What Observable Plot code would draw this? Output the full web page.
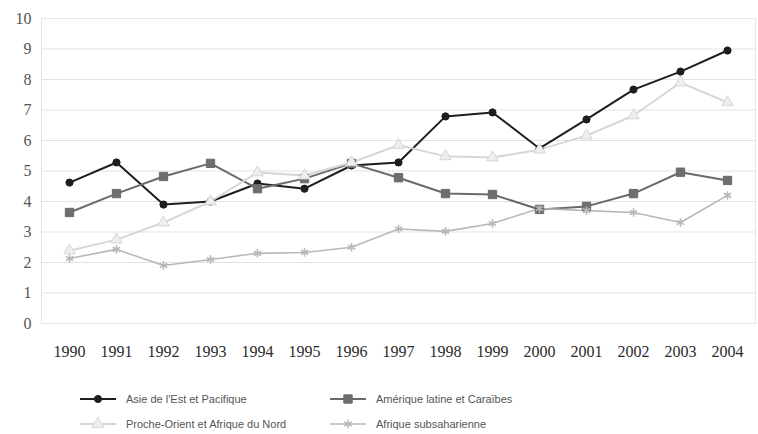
<!DOCTYPE html>
<html>
<head>
<meta charset="utf-8">
<script src="https://cdn.jsdelivr.net/npm/d3@7"></script>
<script src="https://cdn.jsdelivr.net/npm/@observablehq/plot@0.6"></script>
<style>
  html, body { margin: 0; padding: 0; background: #fff; }
  #chart { width: 758px; }
  .legend { position: relative; height: 59px; font-family: "Liberation Sans", Arial, sans-serif; font-size: 11px; color: #555; }
  .item { position: absolute; display: flex; align-items: center; }
  .item svg { margin-right: 10px; }
</style>
</head>
<body>
<div id="chart"></div>
<div class="legend" id="legend"></div>
<script>
// Years on the category axis
const years = ["1990","1991","1992","1993","1994","1995","1996","1997","1998","1999","2000","2001","2002","2003","2004"];

// Series values per region
const asieEst = [4.62, 5.28, 3.9, 4.0, 4.59, 4.42, 5.18, 5.28, 6.79, 6.92, 5.74, 6.69, 7.67, 8.26, 8.95];
const ameriqueLatine = [3.64, 4.26, 4.82, 5.25, 4.42, 4.75, 5.25, 4.78, 4.26, 4.23, 3.74, 3.84, 4.26, 4.96, 4.69];
const procheOrient = [2.39, 2.75, 3.31, 4.0, 4.95, 4.85, 5.28, 5.85, 5.48, 5.44, 5.7, 6.16, 6.82, 7.9, 7.25];
const afriqueSub = [2.13, 2.43, 1.9, 2.1, 2.3, 2.33, 2.5, 3.1, 3.02, 3.28, 3.77, 3.7, 3.64, 3.31, 4.2];

const yTicks = [0,1,2,3,4,5,6,7,8,9,10];

const series = [
  {name: "Asie de l'Est et Pacifique", values: asieEst, stroke: "#1e1e1e", fill: "#1e1e1e", symbol: "circle", r: 3.6, width: 2},
  {name: "Amérique latine et Caraïbes", values: ameriqueLatine, stroke: "#6a6a6a", fill: "#6e6e6e", symbol: "square", r: 4.7, width: 2},
  {name: "Proche-Orient et Afrique du Nord", values: procheOrient, stroke: "#d6d6d6", fill: "#eeeeee", symbol: "triangle", r: 4.3, width: 2},
  {name: "Afrique subsaharienne", values: afriqueSub, stroke: "#b8b8b8", fill: "none", symbol: "asterisk", r: 4, width: 1.6}
];

const rows = series.map(s => years.map((y, i) => ({year: y, value: s.values[i]})));

const marks = [
  Plot.gridY(yTicks, {stroke: "#e2e2e2", strokeOpacity: 1, strokeWidth: 1}),
  Plot.frame({stroke: "#e6e6e6"}),
  Plot.axisY(yTicks, {tickSize: 0, tickPadding: 10, fontSize: 16, fill: "#555", fontFamily: "Liberation Serif, Times New Roman, serif"}),
  Plot.axisX({tickSize: 0, tickPadding: 22, fontSize: 16, fill: "#2a2a2a", fontFamily: "Liberation Serif, Times New Roman, serif"})
];
series.forEach((s, k) => {
  marks.push(Plot.line(rows[k], {x: "year", y: "value", stroke: s.stroke, strokeWidth: s.width}));
});
series.forEach((s, k) => {
  marks.push(Plot.dot(rows[k], {
    x: "year", y: "value", symbol: () => s.symbol, r: s.r,
    fill: s.fill === "none" ? undefined : s.fill,
    stroke: s.stroke, strokeWidth: s.symbol === "asterisk" ? 1.6 : 1
  }));
});

const chart = Plot.plot({
  width: 758,
  height: 375,
  marginTop: 18,
  marginBottom: 52,
  marginLeft: 41,
  marginRight: 3,
  x: {type: "point", domain: years, padding: 0.5, label: null},
  y: {domain: [0, 10], label: null},
  symbol: {type: "identity"},
  style: {background: "#fff"},
  marks
});
document.getElementById("chart").appendChild(chart);

// Legend below the plot
const legendPos = [
  {left: 80, top: 24}, {left: 330, top: 24},
  {left: 80, top: 49}, {left: 330, top: 49}
];
const legend = document.getElementById("legend");
series.forEach((s, k) => {
  const item = document.createElement("div");
  item.className = "item";
  item.style.left = legendPos[k].left + "px";
  item.style.top = (legendPos[k].top - 7) + "px";
  const sw = d3.create("svg").attr("width", 36).attr("height", 14);
  sw.append("line").attr("x1", 0).attr("x2", 36).attr("y1", 7).attr("y2", 7)
    .attr("stroke", s.stroke).attr("stroke-width", s.width);
  const sym = {circle: d3.symbolCircle, square: d3.symbolSquare, triangle: d3.symbolTriangle, asterisk: d3.symbolAsterisk}[s.symbol];
  sw.append("path").attr("d", d3.symbol(sym, Math.PI * s.r * s.r)())
    .attr("transform", "translate(18,7)")
    .attr("fill", s.fill).attr("stroke", s.stroke).attr("stroke-width", s.symbol === "asterisk" ? 1.6 : 1);
  item.appendChild(sw.node());
  const t = document.createElement("span");
  t.textContent = s.name;
  item.appendChild(t);
  legend.appendChild(item);
});
</script>
</body>
</html>
